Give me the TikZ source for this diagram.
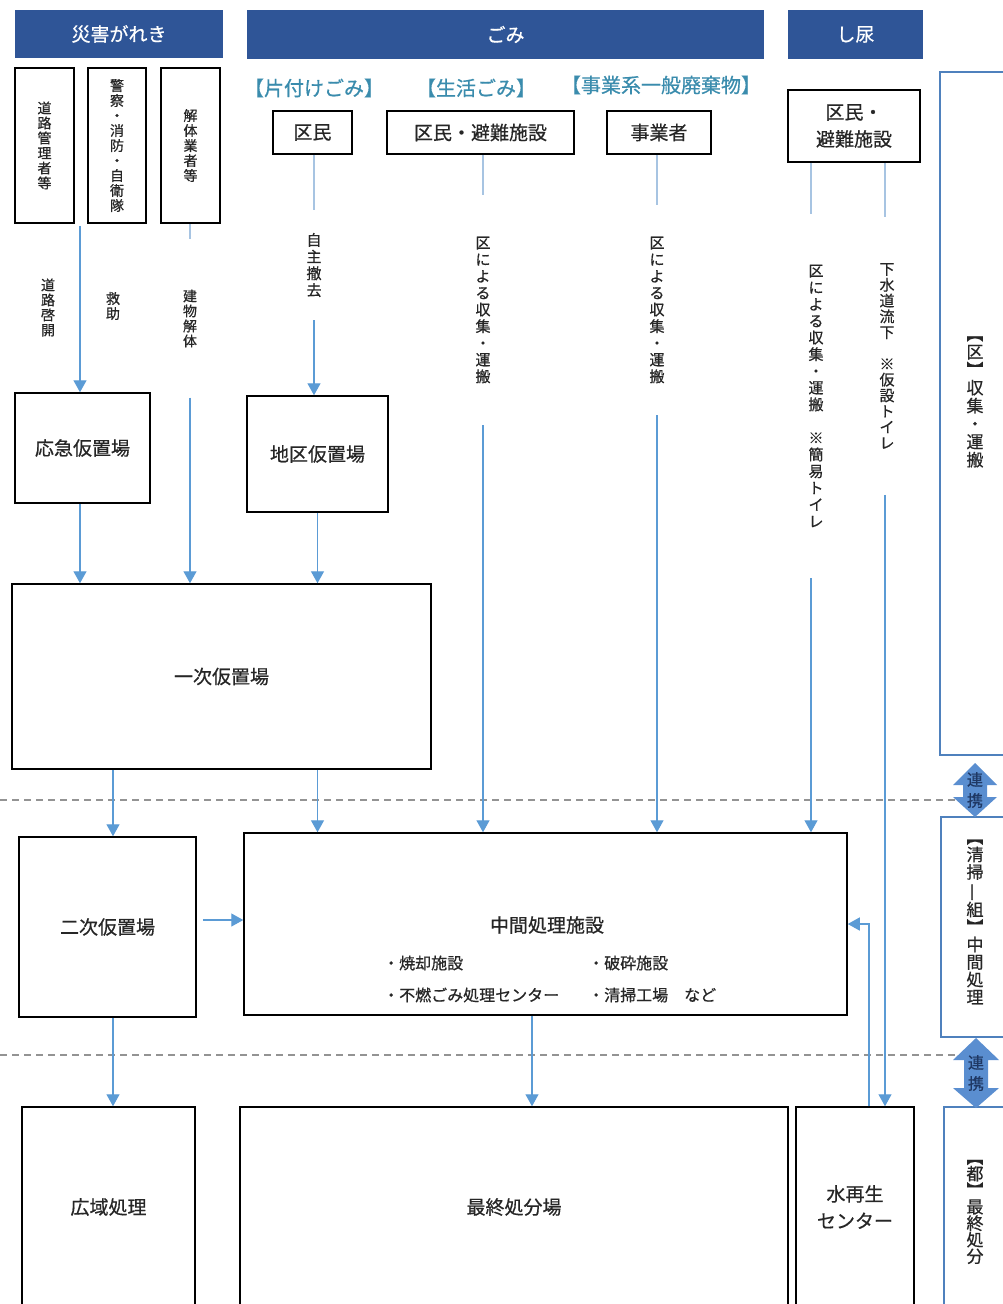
\documentclass[tikz,border=0pt]{standalone}
\usepackage{fontspec}
\usepackage{graphicx}
\newfontfamily\jp[FakeBold=0.6]{Noto Sans CJK JP}
\usetikzlibrary{arrows.meta,calc}
\definecolor{hdr}{HTML}{2F5597}
\definecolor{lb}{HTML}{5B9BD5}
\definecolor{pale}{HTML}{A7C4E2}
\definecolor{tealc}{HTML}{3A8CAD}
\definecolor{obl}{HTML}{4F81BD}
\definecolor{arrf}{HTML}{5A8ED0}
\definecolor{navyt}{HTML}{1F3864}
\definecolor{txt}{HTML}{262626}
\newcommand{\jpf}[2]{\jp\fontsize{#1}{#2}\selectfont}
\begin{document}
\begin{tikzpicture}[x=1pt,y=-1pt,
 hdrbox/.style={fill=hdr,text=white,font=\jpf{19}{22},inner sep=0pt},
 box/.style={draw=black,line width=1.5pt,text=txt,font=\jpf{19}{27},align=center,inner sep=0pt},
 vbox/.style={box,font=\jpf{14}{15}},
 vlab/.style={text=txt,font=\jpf{15}{16.7},align=center,inner xsep=0pt},
 slab/.style={text=txt,font=\jpf{14}{15},align=center,inner xsep=0pt},
 catlab/.style={text=tealc,font=\jpf{20}{24},inner sep=0pt},
 arr/.style={draw=lb,line width=1.3pt,-{Triangle[width=13pt,length=12pt]}},
 seg/.style={draw=pale,line width=1.3pt},
 sidebox/.style={draw=obl,line width=1.8pt,inner sep=0pt},
 sidelab/.style={text=txt,font=\jpf{17}{18},align=center,inner sep=0pt},
 sepline/.style={draw=gray!85,line width=1.2pt,dash pattern=on 7pt off 5pt},
 bul/.style={text=txt,font=\jpf{16}{18},anchor=west,inner sep=0pt},
 rk/.style={text=navyt,font=\jpf{16}{21},align=center,inner sep=0pt},
]
\fill[white] (0,0) rectangle (1002,1304);
\useasboundingbox (0,0) rectangle (1002,1304);

% headers
\node[hdrbox,minimum width=208pt,minimum height=48pt] (h1) at (119,34) {災害がれき};
\node[hdrbox,minimum width=517pt,minimum height=49pt] (h2) at (505.5,34.5) {ごみ};
\node[hdrbox,minimum width=135pt,minimum height=49pt] (h3) at (855.5,34.5) {し尿};

% category labels
\node[catlab] (c1) at (314,88) {【片付けごみ】};
\node[catlab] (c2) at (476,88) {【生活ごみ】};
\node[catlab] (c3) at (661,85) {【事業系一般廃棄物】};

% left vertical boxes
\node[vbox,minimum width=59pt,minimum height=155pt] (doro) at (44.5,145.5) {道\\路\\管\\理\\者\\等};
\node[vbox,minimum width=58pt,minimum height=155pt] (keisatsu) at (117,145.5) {警\\察\\・\\消\\防\\・\\自\\衛\\隊};
\node[vbox,minimum width=59pt,minimum height=155pt] (kaitai) at (190.5,145.5) {解\\体\\業\\者\\等};

% source boxes
\node[box,minimum width=79pt,minimum height=43pt] (kumin) at (312.5,132.5) {区民};
\node[box,minimum width=187pt,minimum height=43pt] (hinan) at (480.5,132.5) {区民・避難施設};
\node[box,minimum width=104pt,minimum height=43pt] (jigyo) at (659,132.5) {事業者};
\node[box,minimum width=132pt,minimum height=72pt] (shinyo) at (854,126) {区民・\\避難施設};

% main boxes
\node[box,minimum width=135pt,minimum height=110pt] (oukyu) at (82.5,448) {応急仮置場};
\node[box,minimum width=141pt,minimum height=116pt] (chiku) at (317.5,454) {地区仮置場};
\node[box,minimum width=419pt,minimum height=185pt] (ichiji) at (221.5,676.5) {一次仮置場};
\node[box,minimum width=177pt,minimum height=180pt] (niji) at (107.5,927) {二次仮置場};
\node[box,minimum width=603pt,minimum height=182pt] (chukan) at (545.5,924) {};
\node[text=txt,font=\jpf{19}{22},inner sep=0pt] (chukant) at (547,925) {中間処理施設};
\node[bul] (b1) at (383,963) {・焼却施設};
\node[bul] (b2) at (588,963) {・破砕施設};
\node[bul] (b3) at (383,995) {・不燃ごみ処理センター};
\node[bul] (b4) at (588,995) {・清掃工場　など};
\node[box,minimum width=173pt,minimum height=200pt] (kouiki) at (108.5,1207) {広域処理};
\node[box,minimum width=548pt,minimum height=200pt] (saishu) at (514,1207) {最終処分場};
\node[box,minimum width=118pt,minimum height=200pt] (mizu) at (855,1207) {水再生\\センター};

% connector labels
\node[slab] (ldoro) at (48,307.5) {道\\路\\啓\\開};
\node[slab] (lkyu) at (113,306) {救\\助};
\node[slab,inner ysep=50pt] (ltate) at (190,318.5) {建\\物\\解\\体};
\node[vlab,inner ysep=23pt] (ljishu) at (314,265) {自\\主\\撤\\去};
\node[vlab,inner ysep=42pt] (lku1) at (483,310) {区\\に\\よ\\る\\収\\集\\・\\運\\搬};
\node[vlab,inner ysep=32pt] (lku2) at (657,310) {区\\に\\よ\\る\\収\\集\\・\\運\\搬};
\node[vlab,inner ysep=51pt] (ls1) at (816,396) {区\\に\\よ\\る\\収\\集\\・\\運\\搬\\　\\※\\簡\\易\\ト\\イ\\レ};
\node[vlab,font=\jpf{15}{15.8},inner ysep=46pt] (ls2) at (887,356) {下\\水\\道\\流\\下\\　\\※\\仮\\設\\ト\\イ\\レ};

% helper coordinates
\coordinate (xdo) at (80,0);
\coordinate (xa) at (113,0);
\coordinate (xb) at (532,0);
\coordinate (xs1) at (811,0);
\coordinate (xs2) at (885,0);
\coordinate (xmz) at (869,0);
\coordinate (yA) at (0,920);

% dashed separators
\coordinate (d1a) at (0,800);
\coordinate (d1b) at (958,800);
\coordinate (d2a) at (0,1055);
\coordinate (d2b) at (958,1055);
\draw[sepline] (d1a) -- (d1b);
\draw[sepline] (d2a) -- (d2b);

% connectors
\draw[arr] ($(doro.south -| xdo)+(0,2)$) -- (oukyu.north -| xdo);
\draw[seg] (kaitai.south -| ltate) -- (ltate.north);
\draw[arr] (ltate.south) -- (ltate.south |- ichiji.north);
\draw[seg] (kumin.south -| ljishu) -- (ljishu.north);
\draw[arr] (ljishu.south) -- (ljishu.south |- chiku.north);
\draw[seg] (hinan.south -| lku1) -- (lku1.north);
\draw[arr] (lku1.south) -- (lku1.south |- chukan.north);
\draw[seg] (jigyo.south -| lku2) -- (lku2.north);
\draw[arr] (lku2.south) -- (lku2.south |- chukan.north);
\draw[seg] (shinyo.south -| xs1) -- (ls1.north -| xs1);
\draw[arr] (ls1.south -| xs1) -- (chukan.north -| xs1);
\draw[seg] (shinyo.south -| xs2) -- (ls2.north -| xs2);
\draw[arr] (ls2.south -| xs2) -- (mizu.north -| xs2);
\draw[arr] (oukyu.south -| xdo) -- (ichiji.north -| xdo);
\draw[arr] (chiku.south) -- (chiku.south |- ichiji.north);
\draw[arr] (ichiji.south -| xa) -- (niji.north -| xa);
\draw[arr] (ichiji.south -| chiku.south) -- (chukan.north -| chiku.south);
\draw[arr] ($(niji.east |- yA)+(6,0)$) -- (chukan.west |- yA);
\draw[arr] (niji.south -| xa) -- (kouiki.north -| xa);
\draw[arr] (chukan.south -| xb) -- (saishu.north -| xb);
\draw[arr] (mizu.north -| xmz) |- (chukan.east);

% side boxes
\node[sidebox,minimum width=70pt,minimum height=683pt] (sb1) at (975,413.5) {};
\node[sidelab] (sl1) at (975,402) {︻\\区\\︼\\収\\集\\・\\運\\搬};
\node[sidebox,minimum width=68pt,minimum height=220pt] (sb2) at (975,927) {};
\node[sidelab,font=\jpf{17}{17.5}] (sl2) at (975,922) {︻\\清\\掃\\\rotatebox[origin=c]{90}{一}\\組\\︼\\中\\間\\処\\理};
\node[sidebox,minimum width=62pt,minimum height=206pt] (sb3) at (975,1210) {};
\node[sidelab,font=\jpf{17}{16.5}] (sl3) at (975,1212) {︻\\都\\︼\\最\\終\\処\\分};

% renkei double arrows
\fill[arrf] (975,763) -- (997,785) -- (987,785) -- (987,797) -- (997,797) -- (975,817) -- (953,797) -- (963,797) -- (963,785) -- (953,785) -- cycle;
\node[rk] (rk1) at (975,790) {連\\携};
\fill[arrf] (976,1038) -- (999,1060) -- (988,1060) -- (988,1088) -- (999,1088) -- (976,1108) -- (953,1088) -- (964,1088) -- (964,1060) -- (953,1060) -- cycle;
\node[rk] (rk2) at (976,1073) {連\\携};
\end{tikzpicture}
\end{document}
